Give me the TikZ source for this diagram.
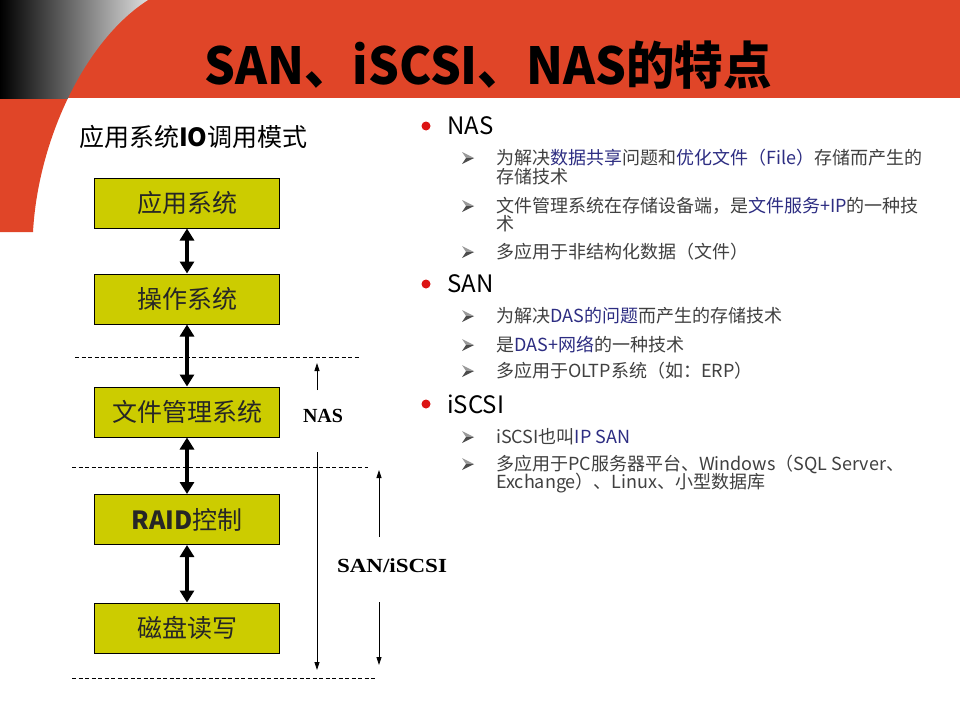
\documentclass[tikz,border=0pt]{standalone}
\usepackage{fontspec}
\setmainfont{Noto Sans CJK SC}
\newfontfamily\serifb{Liberation Serif}
\usetikzlibrary{arrows.meta}
\definecolor{hdred}{RGB}{224,69,40}
\definecolor{boxy}{RGB}{204,204,0}
\definecolor{txtg}{RGB}{64,64,64}
\definecolor{txtb}{RGB}{45,45,130}
\definecolor{dotred}{RGB}{220,20,20}
\begin{document}
\begin{tikzpicture}[x=1pt,y=-1pt,
  layer/.style={draw=black, line width=1pt, fill=boxy, minimum width=185pt, minimum height=50pt, inner sep=0pt, text=black!85, font=\fontsize{25}{25}\selectfont},
  biarrow/.style={line width=3.5pt, {Triangle[width=14pt,length=12pt]}-{Triangle[width=14pt,length=12pt]}},
  thinarrow/.style={line width=0.8pt, -{Triangle[width=5pt,length=8pt]}},
  sepline/.style={dash pattern=on 4pt off 2.5pt, line width=0.7pt},
  mainitem/.style={anchor=west, inner sep=0pt, font=\fontsize{24}{24}\selectfont, text=black},
  subitem/.style={anchor=west, inner sep=0pt, font=\fontsize{18}{18}\selectfont, text=txtg},
  reddot/.style={circle, fill=dotred, minimum size=9pt, inner sep=0pt},
  lab/.style={font=\serifb\bfseries\fontsize{20}{20}\selectfont, inner sep=0pt},
  pics/subarr/.style={code={
    \fill[black!40] (-6,-6) -- (6,0) -- (-2,0) -- cycle;
    \fill[black!70] (-6,6) -- (6,0) -- (-2,0) -- cycle;}}
]
\useasboundingbox (0,0) rectangle (960,720);
\fill[white] (0,0) rectangle (960,720);

% header
\fill[hdred] (0,0) rectangle (960,98);
\fill[hdred] (0,0) -- (148,0) .. controls (85,40) and (38,140) .. (33,232) -- (0,232) -- cycle;
\begin{scope}
  \clip (0,0) -- (148,0) .. controls (85,40) and (38,140) .. (33,232) -- (0,232) -- cycle;
  \shade[left color=black, right color=black!12] (0,0) rectangle (150,98);
\end{scope}
\node[font=\bfseries\fontsize{51}{51}\selectfont, inner sep=0pt, xscale=0.95] (title) at (488,65) {SAN、iSCSI、NAS的特点};

% left diagram
\node[anchor=west, inner sep=0pt, font=\fontsize{25}{25}\selectfont] (head) at (79,137) {应用系统\textbf{IO}调用模式};

\node[layer] (app) at (187,203) {应用系统};
\node[layer] (os) at (187,299) {操作系统};
\node[layer] (fs) at (187,412) {文件管理系统};
\node[layer] (raid) at (187,519.5) {\textbf{RAID}控制};
\node[layer] (disk) at (187,628) {磁盘读写};

\draw[biarrow] (app.south) -- (os.north);
\draw[biarrow] (os.south) -- (fs.north);
\draw[biarrow] (fs.south) -- (raid.north);
\draw[biarrow] (raid.south) -- (disk.north);

\coordinate (d1a) at (75,357); \coordinate (d1b) at (360,357);
\coordinate (d2a) at (72,467); \coordinate (d2b) at (368,467);
\coordinate (d3a) at (72,678); \coordinate (d3b) at (377,678);
\draw[sepline] (d1a) -- (d1b);
\draw[sepline] (d2a) -- (d2b);
\draw[sepline] (d3a) -- (d3b);

\node[lab] (nas) at (323,416) {NAS};
\coordinate (nasU) at (317,390); \coordinate (nasT) at (317,363);
\coordinate (nasD) at (317,452); \coordinate (nasB) at (317,670);
\draw[thinarrow] (nasU) -- (nasT);
\draw[thinarrow] (nasD) -- (nasB);

\node[lab, xscale=1.15] (san) at (392,566) {SAN/iSCSI};
\coordinate (sanU) at (379,537); \coordinate (sanT) at (379,470);
\coordinate (sanD) at (379,602); \coordinate (sanB) at (379,665);
\draw[thinarrow] (sanU) -- (sanT);
\draw[thinarrow] (sanD) -- (sanB);

% right text
\node[reddot] (b1) at (426,126) {};
\node[mainitem] (t1) at (447,126) {NAS};
\pic at (468,158) {subarr};
\node[subitem] (t11) at (496,158) {为解决\textcolor{txtb}{数据共享}问题和\textcolor{txtb}{优化文件（File）}存储而产生的};
\node[subitem] (t11b) at (496,177) {存储技术};
\pic at (468,206) {subarr};
\node[subitem] (t12) at (496,206) {文件管理系统在存储设备端，是\textcolor{txtb}{文件服务+IP}的一种技};
\node[subitem] (t12b) at (496,224) {术};
\pic at (468,252) {subarr};
\node[subitem] (t13) at (496,252) {多应用于非结构化数据（文件）};

\node[reddot] (b2) at (426,284) {};
\node[mainitem] (t2) at (447,284) {SAN};
\pic at (468,316) {subarr};
\node[subitem] (t21) at (496,316) {为解决\textcolor{txtb}{DAS的问题}而产生的存储技术};
\pic at (468,345) {subarr};
\node[subitem] (t22) at (496,345) {是\textcolor{txtb}{DAS+网络}的一种技术};
\pic at (468,371) {subarr};
\node[subitem] (t23) at (496,371) {多应用于OLTP系统（如：ERP）};

\node[reddot] (b3) at (426,404) {};
\node[mainitem] (t3) at (447,404) {iSCSI};
\pic at (468,437) {subarr};
\node[subitem] (t31) at (496,437) {iSCSI也叫\textcolor{txtb}{IP SAN}};
\pic at (468,464) {subarr};
\node[subitem] (t32) at (496,464) {多应用于PC服务器平台、Windows（SQL Server、};
\node[subitem] (t32b) at (496,483) {Exchange）、Linux、小型数据库};
\end{tikzpicture}
\end{document}
